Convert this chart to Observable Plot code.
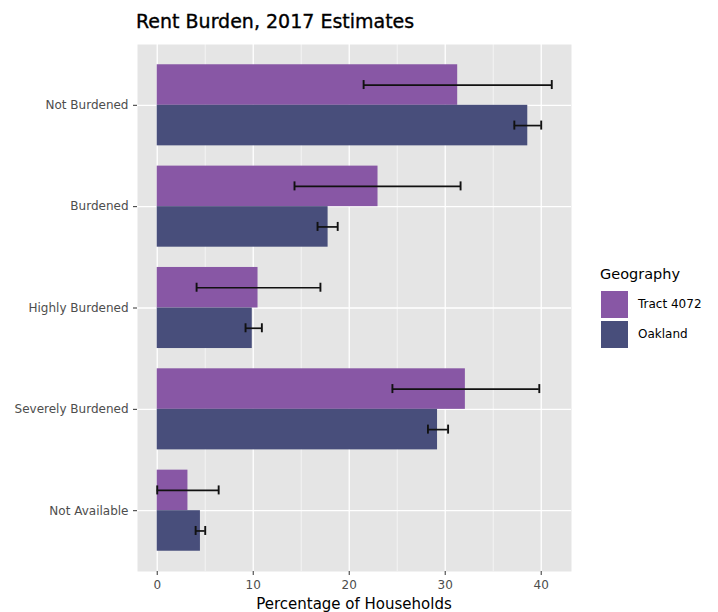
<!DOCTYPE html>
<html><head><meta charset="utf-8">
<script src="https://cdn.jsdelivr.net/npm/d3@7"></script>
<script src="https://cdn.jsdelivr.net/npm/@observablehq/plot@0.6"></script>
<style>
body{margin:0;background:#fff;}
#wrap{position:relative;width:718px;height:612px;font-family:"DejaVu Sans",sans-serif;overflow:hidden;}
#wrap svg{position:absolute;left:0;top:0;}
.abs{position:absolute;white-space:nowrap;line-height:1;}
</style></head><body><div id="wrap"></div>
<script>
const categories = ["Not Burdened", "Burdened", "Highly Burdened", "Severely Burdened", "Not Available"];
const geographies = ["Tract 4072", "Oakland"];
const tractValues = [31.3, 23.0, 10.5, 32.1, 3.2];
const tractLow    = [21.5, 14.3, 4.1, 24.5, 0.0];
const tractHigh   = [41.1, 31.6, 17.0, 39.8, 6.4];
const oaklandValues = [38.6, 17.8, 9.9, 29.2, 4.5];
const oaklandLow    = [37.2, 16.7, 9.2, 28.2, 4.0];
const oaklandHigh   = [40.0, 18.8, 10.9, 30.3, 5.0];
const xTicks = [0, 10, 20, 30, 40];
const xMinorTicks = [5, 15, 25, 35];
const colors = ["#8857A5", "#484E7B"];
const titleText = "Rent Burden, 2017 Estimates";
const xLabel = "Percentage of Households";
const legendTitle = "Geography";

const rows = [];
categories.forEach((c, i) => {
  rows.push({category: c, geography: geographies[0], g: 0, value: tractValues[i], low: tractLow[i], high: tractHigh[i]});
  rows.push({category: c, geography: geographies[1], g: 1, value: oaklandValues[i], low: oaklandLow[i], high: oaklandHigh[i]});
});

const W = 718, H = 612;
const mL = 137, mR = 147, mT = 44, mB = 41;
const padIn = 0.2, padOut = 0.2;
const step = (H - mT - mB) / (categories.length - padIn + 2 * padOut);
const bw = step * (1 - padIn);
const half = bw / 2;
const capH = 9;

const lo = Math.min(0, d3.min(rows, d => d.low));
const hi = d3.max(rows, d => Math.max(d.high, d.value));
const pad = 0.05 * (hi - lo);

const marks = [
  Plot.frame({fill: "#E5E5E5", stroke: null}),
  Plot.gridX(xMinorTicks, {stroke: "white", strokeOpacity: 1, strokeWidth: 0.6}),
  Plot.gridX(xTicks, {stroke: "white", strokeOpacity: 1, strokeWidth: 1.3}),
  Plot.gridY(categories, {stroke: "white", strokeOpacity: 1, strokeWidth: 1.3}),
];
geographies.forEach((geo, g) => {
  const data = rows.filter(d => d.g === g);
  const off = (g === 0 ? -1 : 1) * half / 2;
  marks.push(Plot.barX(data, {x: "value", y: "category", fill: colors[g],
    insetTop: g * half, insetBottom: (1 - g) * half}));
  marks.push(Plot.ruleY(data, {y: "category", x1: "low", x2: "high", dy: off, stroke: "#111", strokeWidth: 1.7}));
  marks.push(Plot.tickX(data, {x: "low", y: "category", dy: off, insetTop: bw / 2 - capH / 2, insetBottom: bw / 2 - capH / 2, stroke: "#111", strokeWidth: 1.9}));
  marks.push(Plot.tickX(data, {x: "high", y: "category", dy: off, insetTop: bw / 2 - capH / 2, insetBottom: bw / 2 - capH / 2, stroke: "#111", strokeWidth: 1.9}));
});
marks.push(Plot.axisX(xTicks, {tickSize: 4, tickPadding: 5, color: "#4D4D4D", stroke: "#333", label: null, fontSize: 12}));
marks.push(Plot.axisY({tickSize: 4, tickPadding: 5, color: "#4D4D4D", stroke: "#333", label: null, fontSize: 12}));

const chart = Plot.plot({
  width: W, height: H,
  marginLeft: mL, marginRight: mR, marginTop: mT, marginBottom: mB,
  style: {fontFamily: '"DejaVu Sans",sans-serif', fontSize: "12px", background: "transparent", overflow: "visible"},
  x: {domain: [lo - pad, hi + pad]},
  y: {domain: categories, paddingInner: padIn, paddingOuter: padOut, round: false, align: 0.5},
  marks
});

const wrap = document.getElementById("wrap");
wrap.appendChild(chart);

function addText(txt, style) {
  const d = document.createElement("div");
  d.className = "abs";
  d.textContent = txt;
  Object.assign(d.style, style);
  wrap.appendChild(d);
  return d;
}
addText(titleText, {left: "136px", top: "12px", fontSize: "19px", color: "#000", webkitTextStroke: "0.35px #000"});
addText(xLabel, {left: mL + "px", width: (W - mL - mR) + "px", textAlign: "center", top: "597px", fontSize: "15px", color: "#000"});
addText(legendTitle, {left: "600px", top: "267px", fontSize: "14.5px", color: "#000"});
geographies.forEach((geo, g) => {
  const k = document.createElement("div");
  k.className = "abs";
  Object.assign(k.style, {left: "601px", top: (291 + g * 29.5) + "px", width: "27px", height: "27px", background: colors[g]});
  wrap.appendChild(k);
  addText(geo, {left: "638px", top: (298 + g * 29.5) + "px", fontSize: "12px", color: "#000"});
});
</script></body></html>
